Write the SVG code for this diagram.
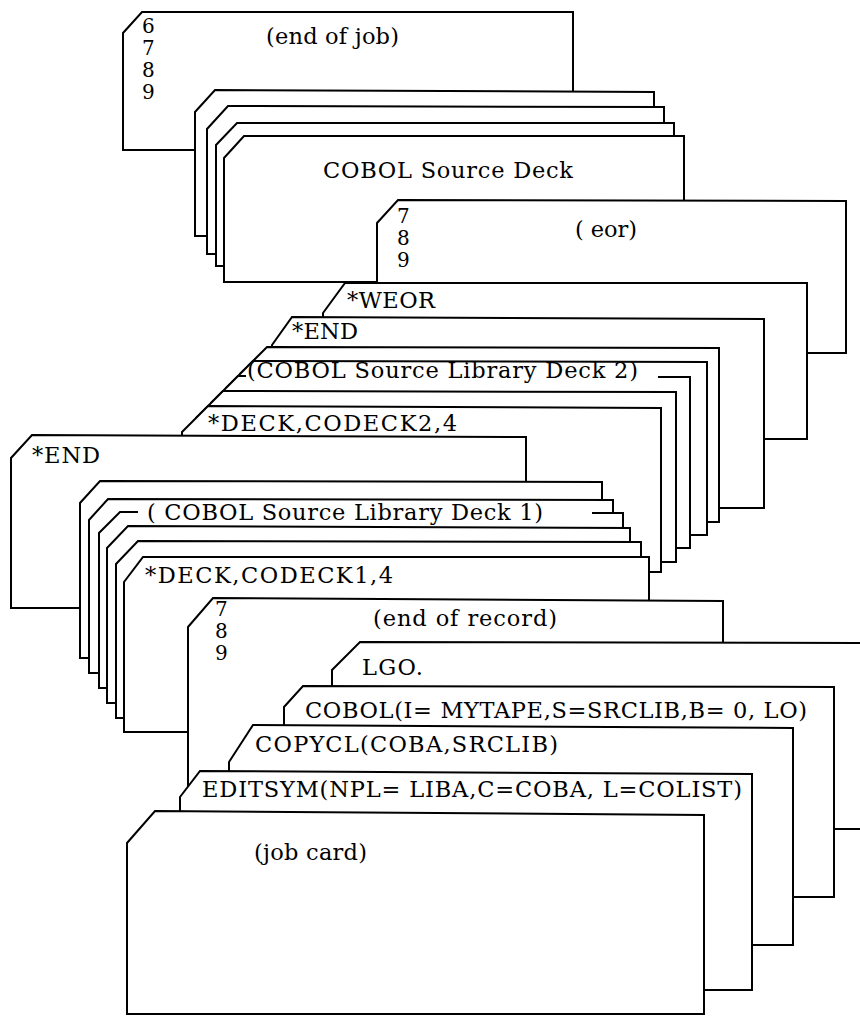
<svg xmlns="http://www.w3.org/2000/svg" width="860" height="1017" viewBox="0 0 860 1017">
  <style>
    .card { fill: #fff; stroke: #000; stroke-width: 2; stroke-linejoin: miter; }
    .face { fill: #fff; stroke: none; }
    .edge { fill: none; stroke: #000; stroke-width: 2; stroke-linejoin: miter; }
    text { font-family: "DejaVu Serif", "Liberation Serif", serif; font-size: 22.5px; fill: #000; }
    .rows { font-size: 20px; }
  </style>
  <rect width="860" height="1017" fill="#fff"/>

  <!-- deck is drawn from the back card to the front card -->
  <g id="end-of-job">
    <polygon class="card" points="123,33 142,12 573,12 573,150 123,150"/>
    <text class="rows" x="142" y="33">6<tspan x="142" y="55">7</tspan><tspan x="142" y="77">8</tspan><tspan x="142" y="99">9</tspan></text>
    <text x="266" y="44" textLength="133" lengthAdjust="spacing">(end of job)</text>
  </g>

  <g id="cobol-source-deck">
    <polygon class="card" points="195,112 215,90 654,92 654,236 195,236"/>
    <polygon class="card" points="207,129 228,106 664,107 664,254 207,254"/>
    <polygon class="card" points="216,145 237,123 674,123 674,266 216,266"/>
    <polygon class="card" points="224,158 244,136 684,136 684,282 224,282"/>
    <text x="323" y="178" textLength="250" lengthAdjust="spacing">COBOL Source Deck</text>
  </g>

  <g id="eor">
    <polygon class="card" points="377,223 398,200 846,201 846,353 377,353"/>
    <text class="rows" x="397" y="223">7<tspan x="397" y="245">8</tspan><tspan x="397" y="267">9</tspan></text>
    <text x="575" y="237" textLength="62" lengthAdjust="spacing">( eor)</text>
  </g>

  <g id="weor">
    <polygon class="card" points="323,313 345,283 807,283 807,439 323,439"/>
    <text x="347" y="308" textLength="88" lengthAdjust="spacing">*WEOR</text>
  </g>

  <g id="end-2">
    <polygon class="card" points="272,345 292,317 764,319 764,508 272,508"/>
    <text x="292" y="339" textLength="66" lengthAdjust="spacing">*END</text>
  </g>

  <g id="library-deck-2">
    <polygon class="card" points="240,374 267,347 719,348 719,522 240,522"/>
    <polygon class="card" points="226,388 253,361 707,362 707,535 226,535"/>
    <polygon class="face" points="211,403 238,376 690,377 690,548 211,548"/>
    <path class="edge" d="M658,377 H690 V548 H211 V403 L238,376 H246"/>
    <text x="247" y="378" textLength="391" lengthAdjust="spacing">(COBOL Source Library Deck 2)</text>
    <polygon class="card" points="196,418 223,391 676,392 676,562 196,562"/>
    <polygon class="card" points="182,432 208,406 661,408 661,572 182,572"/>
    <text x="208" y="431" textLength="249" lengthAdjust="spacing">*DECK,CODECK2,4</text>
  </g>

  <g id="end-1">
    <polygon class="card" points="11,458 32,435 526,437 526,608 11,608"/>
    <text x="32" y="463" textLength="68" lengthAdjust="spacing">*END</text>
  </g>

  <g id="library-deck-1">
    <polygon class="card" points="80,503 100,481 602,482 602,658 80,658"/>
    <polygon class="card" points="89,520 108,499 613,500 613,673 89,673"/>
    <polygon class="face" points="99,533 120,512 623,513 623,688 99,688"/>
    <path class="edge" d="M592,513 H623 V688 H99 V533 L120,512 H138"/>
    <text x="147" y="520" textLength="396" lengthAdjust="spacing">( COBOL Source Library Deck 1)</text>
    <polygon class="card" points="107,548 128,526 630,528 630,703 107,703"/>
    <polygon class="card" points="116,564 138,541 641,542 641,718 116,718"/>
    <polygon class="card" points="124,582 143,557 649,557 649,732 124,732"/>
    <text x="145" y="583" textLength="248" lengthAdjust="spacing">*DECK,CODECK1,4</text>
  </g>

  <g id="end-of-record">
    <polygon class="card" points="188,627 213,598 723,601 723,880 188,880"/>
    <text class="rows" x="215" y="616">7<tspan x="215" y="638">8</tspan><tspan x="215" y="660">9</tspan></text>
    <text x="373" y="626" textLength="184" lengthAdjust="spacing">(end of record)</text>
  </g>

  <g id="lgo">
    <polygon class="card" points="332,670 360,642 870,643 870,829 332,829"/>
    <text x="362" y="675" textLength="61" lengthAdjust="spacing">LGO.</text>
  </g>

  <g id="cobol">
    <polygon class="card" points="284,707 303,686 834,687 834,897 284,897"/>
    <text x="305" y="718" textLength="502" lengthAdjust="spacing">COBOL(I= MYTAPE,S=SRCLIB,B= 0, LO)</text>
  </g>

  <g id="copycl">
    <polygon class="card" points="229,762 253,725 793,728 793,945 229,945"/>
    <text x="255" y="752" textLength="303" lengthAdjust="spacing">COPYCL(COBA,SRCLIB)</text>
  </g>

  <g id="editsym">
    <polygon class="card" points="180,797 200,771 752,774 752,990 180,990"/>
    <text x="202" y="797" textLength="540" lengthAdjust="spacing">EDITSYM(NPL= LIBA,C=COBA, L=COLIST)</text>
  </g>

  <g id="job-card">
    <polygon class="card" points="127,843 155,811 704,815 704,1014 127,1014"/>
    <text x="254" y="860" textLength="113" lengthAdjust="spacing">(job card)</text>
  </g>
</svg>
